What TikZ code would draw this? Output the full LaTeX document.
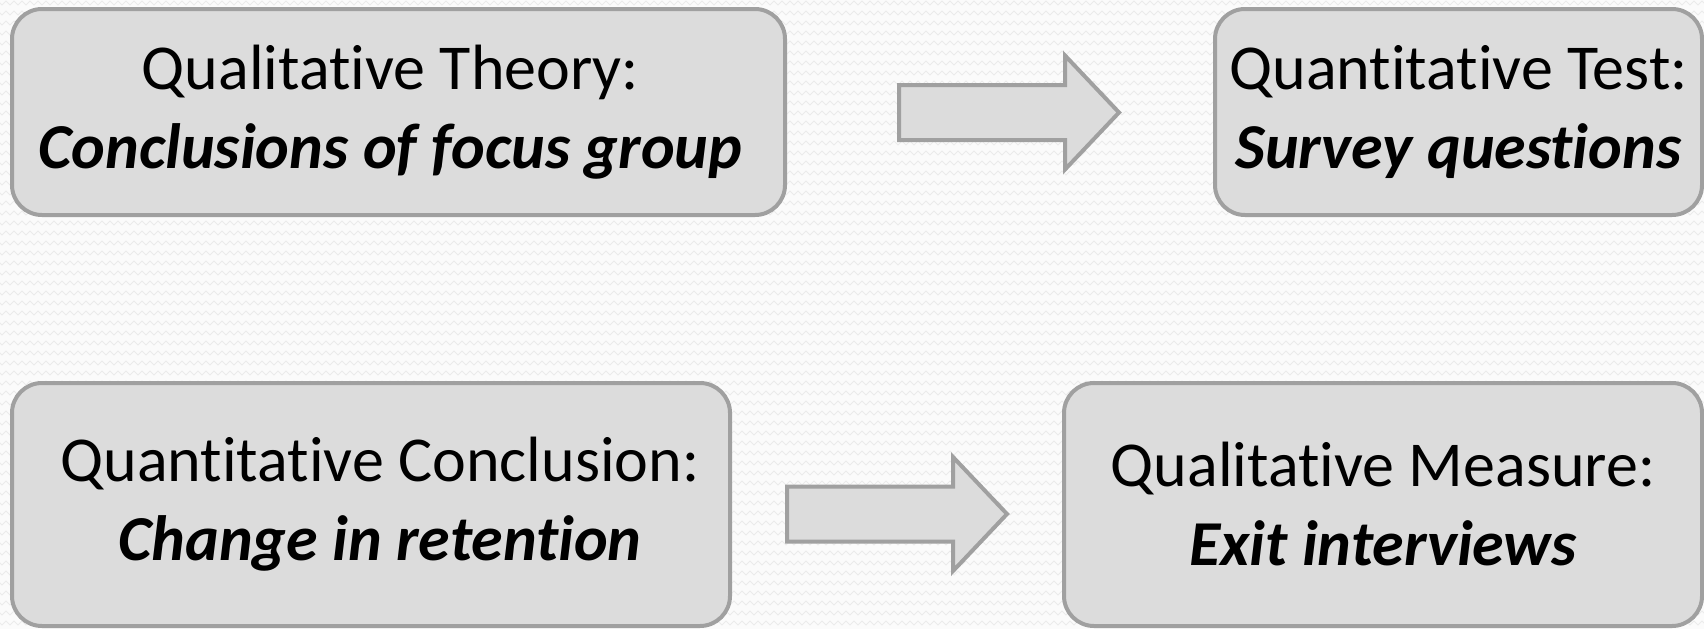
\documentclass[tikz,border=0pt]{standalone}
\usepackage{fontspec}
\setmainfont{Carlito}[RawFeature=-liga]
\usetikzlibrary{calc,decorations.pathmorphing}
\definecolor{boxfill}{HTML}{DCDCDC}
\definecolor{boxline}{HTML}{A0A0A0}
\definecolor{bgcol}{HTML}{FBFBFB}
\definecolor{zigcol}{HTML}{EBEBEB}
\tikzset{
  stage/.style={draw=boxline, fill=boxfill, line width=4pt, rounded corners=30pt,
    align=center, inner sep=0pt, font=\fontsize{64}{79}\selectfont, text=black},
  blockarrow/.style={draw=boxline, fill=boxfill, line width=4pt, line join=miter},
  zigline/.style={draw=zigcol, line width=1pt, decorate,
    decoration={zigzag, segment length=8pt, amplitude=2pt}},
}
\newcommand{\stagetitle}[1]{\textbf{\textit{#1}}}
\newcommand{\padR}[1]{#1\hspace*{16pt}}
\newcommand{\padL}[1]{\hspace*{18pt}#1}
\begin{document}
\begin{tikzpicture}[x=1pt,y=-1pt]
\useasboundingbox (0,0) rectangle (1704,629);
\fill[bgcol] (0,0) rectangle (1704,629);
\begin{scope}
  \clip (0,0) rectangle (1704,629);
  \foreach \r in {3,13,...,633} \draw[zigline] (-4,\r) -- (1708,\r);
\end{scope}

\node[stage, minimum width=773pt, minimum height=206pt] (theory) at (398.5,112)
  {\padR{Qualitative Theory:}\\\padR{\stagetitle{Conclusions of focus group}}};
\node[stage, minimum width=487pt, minimum height=206pt] (test) at (1458.5,112)
  {Quantitative Test:\\\stagetitle{Survey questions}};
\node[stage, minimum width=718pt, minimum height=243pt] (concl) at (371,504.5)
  {\padL{Quantitative Conclusion:}\\\padL{\stagetitle{Change in retention}}};
\node[stage, minimum width=638pt, minimum height=243pt] (measure) at (1383,504.5)
  {Qualitative Measure:\\\stagetitle{Exit interviews}};

\coordinate (a1) at (899,112.5);
\coordinate (a2) at (787,514);
\foreach \a in {a1,a2}
  \draw[blockarrow] ($(\a)+(0,-27.5)$) -- ($(\a)+(166,-27.5)$) -- ($(\a)+(166,-57)$)
    -- ($(\a)+(220,0)$) -- ($(\a)+(166,57)$) -- ($(\a)+(166,27.5)$)
    -- ($(\a)+(0,27.5)$) -- cycle;
\end{tikzpicture}
\end{document}
